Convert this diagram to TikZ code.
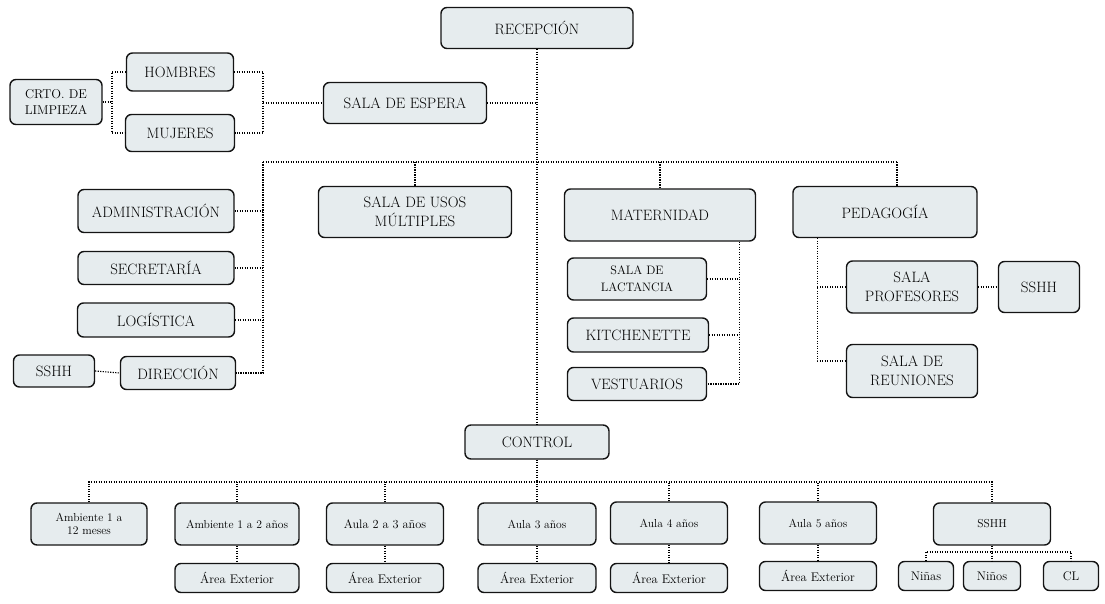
\documentclass[tikz,border=0pt]{standalone}
\usepackage{tikz}
\usetikzlibrary{positioning,calc}
\definecolor{boxfill}{RGB}{230,236,238}
\definecolor{boxborder}{RGB}{20,20,20}

\begin{document}
\begin{tikzpicture}[
        x=1pt, y=-1pt,
        box/.style={draw=boxborder, fill=boxfill, line width=1.4pt, rounded corners=6pt, align=center, inner sep=1pt, font=\fontsize{15}{19.5}\selectfont},
        small/.style={font=\fontsize{12.5}{14}\selectfont},
        tiny/.style={font=\fontsize{11.6}{13.5}\selectfont},
        conn/.style={line width=1.1pt, dash pattern=on 1.2pt off 1.3pt, color=black}
    ]
        \useasboundingbox (0,0) rectangle (1105,604);

        % Recepcion y sala de espera
        \node[box, minimum width=192pt, minimum height=41pt] (recepcion) at (537,28) {RECEPCIÓN};
        \node[box, minimum width=163pt, minimum height=41pt] (espera) at (405,103) {SALA DE ESPERA};
        \node[box, minimum width=107pt, minimum height=38pt] (hombres) at (180,72) {HOMBRES};
        \node[box, minimum width=109pt, minimum height=37pt] (mujeres) at (180,133) {MUJERES};
        \node[box, font=\fontsize{12.8}{15.5}\selectfont, minimum width=92pt, minimum height=45pt] (limpieza) at (56,102) {CRTO. DE\\LIMPIEZA};

        % Administracion
        \node[box, minimum width=156pt, minimum height=43pt] (admin) at (156,211) {ADMINISTRACIÓN};
        \node[box, minimum width=156pt, minimum height=33pt] (secretaria) at (156,268) {SECRETARÍA};
        \node[box, minimum width=157pt, minimum height=34pt] (logistica) at (156,320) {LOGÍSTICA};
        \node[box, minimum width=115pt, minimum height=33pt] (direccion) at (178,373) {DIRECCIÓN};
        \node[box, minimum width=81pt, minimum height=32pt] (sshhA) at (54,371) {SSHH};

        % Usos multiples
        \node[box, minimum width=193pt, minimum height=51pt] (usos) at (415,212) {SALA DE USOS\\MÚLTIPLES};

        % Maternidad
        \node[box, minimum width=191pt, minimum height=52pt] (maternidad) at (660,215) {MATERNIDAD};
        \node[box, font=\fontsize{12.2}{16.5}\selectfont, minimum width=139pt, minimum height=42pt] (lactancia) at (637,279) {SALA DE\\LACTANCIA};
        \node[box, minimum width=141pt, minimum height=34pt] (kitchen) at (638,335) {KITCHENETTE};
        \node[box, minimum width=139pt, minimum height=33pt] (vestuarios) at (637,384) {VESTUARIOS};

        % Pedagogia
        \node[box, minimum width=184pt, minimum height=51pt] (pedagogia) at (885,212) {PEDAGOGÍA};
        \node[box, minimum width=131pt, minimum height=52pt] (profesores) at (912,287) {SALA\\PROFESORES};
        \node[box, minimum width=81pt, minimum height=51pt] (sshhB) at (1039,287) {SSHH};
        \node[box, minimum width=131pt, minimum height=53pt] (reuniones) at (912,371) {SALA DE\\REUNIONES};

        % Control y aulas
        \node[box, minimum width=144pt, minimum height=34pt] (control) at (537,442) {CONTROL};
        \node[box, tiny, minimum width=116pt, minimum height=42pt] (amb1) at (89,524) {Ambiente 1 a\\12 meses};
        \node[box, tiny, minimum width=124pt, minimum height=42pt] (amb2) at (237,524) {Ambiente 1 a 2 años};
        \node[box, font=\fontsize{12.3}{14}\selectfont, minimum width=117pt, minimum height=42pt] (aula23) at (385,524) {Aula 2 a 3 años};
        \node[box, tiny, minimum width=118pt, minimum height=42pt] (aula3) at (537,524) {Aula 3 años};
        \node[box, tiny, minimum width=117pt, minimum height=42pt] (aula4) at (669,523) {Aula 4 años};
        \node[box, tiny, minimum width=117pt, minimum height=42pt] (aula5) at (818,523) {Aula 5 años};
        \node[box, font=\fontsize{11.5}{13}\selectfont, minimum width=117pt, minimum height=42pt] (sshhC) at (992,524) {SSHH};

        % Areas exteriores
        \node[box, small, minimum width=124pt, minimum height=29pt] (extA) at (237,578) {Área Exterior};
        \node[box, small, minimum width=117pt, minimum height=29pt] (extB) at (385,578) {Área Exterior};
        \node[box, small, minimum width=118pt, minimum height=29pt] (extC) at (537,578) {Área Exterior};
        \node[box, small, minimum width=117pt, minimum height=29pt] (extD) at (669,578) {Área Exterior};
        \node[box, small, minimum width=117pt, minimum height=29pt] (extE) at (818,576) {Área Exterior};
        \node[box, small, minimum width=55pt, minimum height=29pt] (ninas) at (926,576) {Niñas};
        \node[box, small, minimum width=57pt, minimum height=29pt] (ninos) at (992,576) {Niños};
        \node[box, small, minimum width=55pt, minimum height=29pt] (cl) at (1071,576) {CL};

        % Puntos de bus
        \coordinate (busTL) at (263,162);
        \coordinate (busTR) at (897,162);
        \coordinate (banosR) at (263,103);
        \coordinate (banosL) at (112,102);
        \coordinate (busB) at (537,482);
        \coordinate (busS) at (992,552);
        \coordinate (matV) at ([xshift=-17pt]maternidad.south east);
        \coordinate (pedV) at ([xshift=25pt]pedagogia.south west);

        % Conexiones superiores
        \draw[conn] (recepcion.south) -- (control.north);
        \draw[conn] (espera.east) -- (espera.east -| recepcion.south);
        \draw[conn] (hombres.east) -| (banosR) |- (mujeres.east);
        \draw[conn] (banosR) -- (espera.west);
        \draw[conn] (hombres.west) -| (banosL) |- (mujeres.west);
        \draw[conn] (limpieza.east) -- (banosL);
        \draw[conn] (busTL) -- (busTR);

        % Conexiones administracion
        \draw[conn] (busTL) |- (direccion.east);
        \draw[conn] (admin.east) -- (admin.east -| busTL);
        \draw[conn] (secretaria.east) -- (secretaria.east -| busTL);
        \draw[conn] (logistica.east) -- (logistica.east -| busTL);
        \draw[conn] (sshhA.east) -- (direccion.west);
        \draw[conn] (usos.north |- busTL) -- (usos.north);

        % Conexiones maternidad y pedagogia
        \draw[conn] (maternidad.north |- busTL) -- (maternidad.north);
        \draw[conn] (matV) |- (vestuarios.east);
        \draw[conn] (lactancia.east) -- (lactancia.east -| matV);
        \draw[conn] (kitchen.east) -- (kitchen.east -| matV);
        \draw[conn] (busTR) -- (busTR |- pedagogia.north);
        \draw[conn] (pedV) |- ([yshift=10pt]reuniones.west);
        \draw[conn] (profesores.west) -- (profesores.west -| pedV);
        \draw[conn] (profesores.east) -- (sshhB.west);

        % Conexiones inferiores
        \draw[conn] (control.south) -- (busB);
        \draw[conn] (amb1.north) |- (busB) -| (sshhC.north);
        \foreach \n in {amb2, aula23, aula3, aula4, aula5}
            \draw[conn] (\n.north) -- (\n.north |- busB);
        \foreach \n/\m in {amb2/extA, aula23/extB, aula3/extC, aula4/extD, aula5/extE}
            \draw[conn] (\n.south) -- (\m.north);
        \draw[conn] (sshhC.south) -- (ninos.north);
        \draw[conn] (ninas.north) |- (busS) -| (cl.north);
    \end{tikzpicture}
\end{document}
